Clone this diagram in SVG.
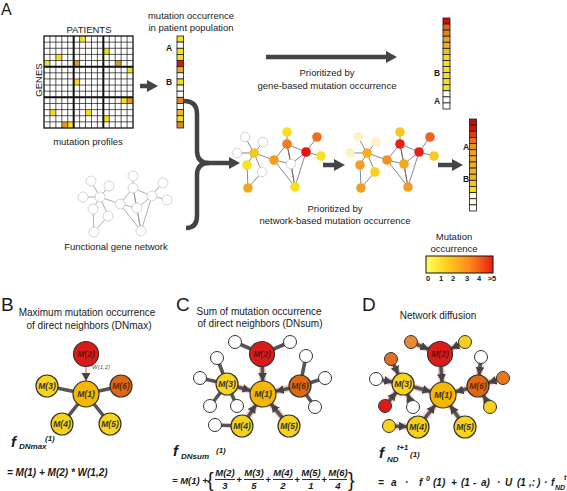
<svg xmlns="http://www.w3.org/2000/svg" xmlns:xlink="http://www.w3.org/1999/xlink" width="567" height="491" viewBox="0 0 567 491">
<style>
.t{font-family:"Liberation Sans",Arial,Helvetica,sans-serif;fill:#1a1a1a}
.s9{font-size:9.5px}
.s10{font-size:10px}
.b{font-weight:bold}
.bi{font-weight:bold;font-style:italic}
.big{font-size:19px}
.m{text-anchor:middle}
.cell{stroke:#1a1a1a;stroke-width:0.8}
.arr{fill:none;stroke:#444;stroke-width:4.5}
.e{stroke:#555;stroke-width:3.6;fill:none}
.glow{stroke:#f2a8a8;stroke-width:7;opacity:0.55;fill:none}
.nd{stroke:#333;stroke-width:1.2}
.nl{font-family:"Liberation Sans",Arial,sans-serif;font-size:8.5px;font-weight:bold;font-style:italic;text-anchor:middle;fill:#333}
.sn{stroke:#333;stroke-width:1}
.w0{fill:#fff;stroke:#c8c8c8;stroke-width:0.8}
</style>
<defs>
<marker id="big" markerUnits="userSpaceOnUse" viewBox="0 0 12 12" markerWidth="12" markerHeight="12" refX="0" refY="6" orient="auto"><path d="M0,0 L11,6 L0,12 z" fill="#444"/></marker>
<marker id="a13" markerUnits="userSpaceOnUse" viewBox="0 0 30 10" markerWidth="30" markerHeight="10" refX="21" refY="5" orient="auto"><path d="M0,0.5 L8,5 L0,9.5 z" fill="#444"/></marker>
<marker id="a12" markerUnits="userSpaceOnUse" viewBox="0 0 30 10" markerWidth="30" markerHeight="10" refX="20.5" refY="5" orient="auto"><path d="M0,0.5 L8,5 L0,9.5 z" fill="#444"/></marker>
<marker id="a11" markerUnits="userSpaceOnUse" viewBox="0 0 30 10" markerWidth="30" markerHeight="10" refX="19" refY="5" orient="auto"><path d="M0,0.5 L8,5 L0,9.5 z" fill="#444"/></marker>
<linearGradient id="grad" x1="0" y1="0" x2="1" y2="0">
<stop offset="0" stop-color="#ffff60"/><stop offset="0.3" stop-color="#ffd020"/><stop offset="0.65" stop-color="#ff8a18"/><stop offset="1" stop-color="#ec1c14"/>
</linearGradient>
<g id="netE">
<path d="M254,153L245,137M254,153L263,142M254,153L237,153M254,153L247,165M254,153L262,172M254,153L274,160M247,165L248,188M262,172L248,188M274,160L287,144M274,160L291,164M274,160L295,187M287,144L287,132M287,144L306,152M287,144L291,164M287,144L295,187M306,152L317,137M306,152L321,156M306,152L291,164M306,152L295,187M291,164L295,187"/>
</g>
</defs>
<rect width="567" height="491" fill="#fff"/>

<!-- Panel A -->
<text class="t" x="1" y="15" font-size="16">A</text>

<g id="matrix">
<rect x="44" y="36" width="89" height="92" fill="#fff"/>
<g fill="#f5e020">
<rect x="79.6" y="36" width="5.93" height="6.13"/>
<rect x="103.33" y="48.27" width="5.93" height="6.13"/>
<rect x="55.87" y="54.4" width="5.93" height="6.13"/>
<rect x="44" y="60.53" width="5.93" height="6.13"/>
<rect x="127.07" y="66.67" width="5.93" height="6.13"/>
<rect x="73.67" y="78.93" width="5.93" height="6.13"/>
<rect x="121.13" y="97.33" width="5.93" height="6.13"/>
<rect x="49.93" y="109.6" width="5.93" height="6.13"/>
<rect x="85.53" y="109.6" width="5.93" height="6.13"/>
<rect x="103.33" y="115.73" width="5.93" height="6.13"/>
<rect x="67.73" y="121.87" width="5.93" height="6.13"/>
</g>
<g fill="#e49a28">
<rect x="73.67" y="60.53" width="5.93" height="6.13"/>
<rect x="115.2" y="60.53" width="5.93" height="6.13"/>
<rect x="127.07" y="97.33" width="5.93" height="6.13"/>
<rect x="61.8" y="121.87" width="5.93" height="6.13"/>
</g>
<path d="M49.93,36V128M55.87,36V128M61.8,36V128M67.73,36V128M79.6,36V128M85.53,36V128M91.47,36V128M97.4,36V128M109.27,36V128M115.2,36V128M121.13,36V128M127.07,36V128M44,42.13H133M44,48.27H133M44,54.4H133M44,60.53H133M44,72.8H133M44,78.93H133M44,85.07H133M44,91.2H133M44,103.47H133M44,109.6H133M44,115.73H133M44,121.87H133" stroke="#111" stroke-width="0.7" fill="none"/>
<path d="M73.67,36V128M103.33,36V128M44,66.67H133M44,97.33H133" stroke="#111" stroke-width="2" fill="none"/>
<rect x="44" y="36" width="89" height="92" fill="none" stroke="#111" stroke-width="1.3"/>
<text class="t s9 m" x="89" y="33">PATIENTS</text>
<text class="t s9 m" transform="translate(42,80) rotate(-90)">GENES</text>
<text class="t s9 m" x="88" y="145">mutation profiles</text>
</g>

<g id="col-occurrence">
<rect class="cell" x="177" y="36" width="6.6" height="6.13" fill="#f5e020"/>
<rect class="cell" x="177" y="42.13" width="6.6" height="6.13" fill="#fff"/>
<rect class="cell" x="177" y="48.27" width="6.6" height="6.13" fill="#f5e020"/>
<rect class="cell" x="177" y="54.4" width="6.6" height="6.13" fill="#f5e020"/>
<rect class="cell" x="177" y="60.53" width="6.6" height="6.13" fill="#d41818"/>
<rect class="cell" x="177" y="66.67" width="6.6" height="6.13" fill="#f0a830"/>
<rect class="cell" x="177" y="72.8" width="6.6" height="6.13" fill="#fff"/>
<rect class="cell" x="177" y="78.93" width="6.6" height="6.13" fill="#f5e020"/>
<rect class="cell" x="177" y="85.07" width="6.6" height="6.13" fill="#fff"/>
<rect class="cell" x="177" y="91.2" width="6.6" height="6.13" fill="#fff"/>
<rect class="cell" x="177" y="97.33" width="6.6" height="6.13" fill="#e08a20"/>
<rect class="cell" x="177" y="103.47" width="6.6" height="6.13" fill="#fff"/>
<rect class="cell" x="177" y="109.6" width="6.6" height="6.13" fill="#f0b830"/>
<rect class="cell" x="177" y="115.73" width="6.6" height="6.13" fill="#f5e020"/>
<rect class="cell" x="177" y="121.87" width="6.6" height="6.13" fill="#e08a20"/>
<text class="t s9 m" x="191" y="19">mutation occurrence</text>
<text class="t s9 m" x="191" y="31">in patient population</text>
<text class="t b m" font-size="8.5" x="169" y="51">A</text>
<text class="t b m" font-size="8.5" x="169" y="85">B</text>
</g>

<g id="col-gene">
<rect class="cell" x="443" y="18" width="7" height="6.07" fill="#c81010"/>
<rect class="cell" x="443" y="24.07" width="7" height="6.07" fill="#e06818"/>
<rect class="cell" x="443" y="30.13" width="7" height="6.07" fill="#e88020"/>
<rect class="cell" x="443" y="36.2" width="7" height="6.07" fill="#f0a020"/>
<rect class="cell" x="443" y="42.27" width="7" height="6.07" fill="#f0b028"/>
<rect class="cell" x="443" y="48.33" width="7" height="6.07" fill="#f0c020"/>
<rect class="cell" x="443" y="54.4" width="7" height="6.07" fill="#f5d820"/>
<rect class="cell" x="443" y="60.47" width="7" height="6.07" fill="#f5e020"/>
<rect class="cell" x="443" y="66.53" width="7" height="6.07" fill="#f5e020"/>
<rect class="cell" x="443" y="72.6" width="7" height="6.07" fill="#f5e020"/>
<rect class="cell" x="443" y="78.67" width="7" height="6.07" fill="#f5e020"/>
<rect class="cell" x="443" y="84.73" width="7" height="6.07" fill="#f5e020"/>
<rect class="cell" x="443" y="90.8" width="7" height="6.07" fill="#fff"/>
<rect class="cell" x="443" y="96.87" width="7" height="6.07" fill="#fff"/>
<rect class="cell" x="443" y="102.93" width="7" height="6.07" fill="#fff"/>
<text class="t b m" font-size="8.5" x="437" y="76">B</text>
<text class="t b m" font-size="8.5" x="437" y="104">A</text>
</g>

<g id="col-network">
<rect class="cell" x="469.5" y="119" width="7" height="6.13" fill="#c01010"/>
<rect class="cell" x="469.5" y="125.13" width="7" height="6.13" fill="#cc1a10"/>
<rect class="cell" x="469.5" y="131.27" width="7" height="6.13" fill="#e04010"/>
<rect class="cell" x="469.5" y="137.4" width="7" height="6.13" fill="#e87018"/>
<rect class="cell" x="469.5" y="143.53" width="7" height="6.13" fill="#f09020"/>
<rect class="cell" x="469.5" y="149.67" width="7" height="6.13" fill="#f0a020"/>
<rect class="cell" x="469.5" y="155.8" width="7" height="6.13" fill="#f0a828"/>
<rect class="cell" x="469.5" y="161.93" width="7" height="6.13" fill="#f0a828"/>
<rect class="cell" x="469.5" y="168.07" width="7" height="6.13" fill="#f0b020"/>
<rect class="cell" x="469.5" y="174.2" width="7" height="6.13" fill="#f0b020"/>
<rect class="cell" x="469.5" y="180.33" width="7" height="6.13" fill="#f5c020"/>
<rect class="cell" x="469.5" y="186.47" width="7" height="6.13" fill="#f5d820"/>
<rect class="cell" x="469.5" y="192.6" width="7" height="6.13" fill="#fff8d8"/>
<rect class="cell" x="469.5" y="198.73" width="7" height="6.13" fill="#fffbe8"/>
<rect class="cell" x="469.5" y="204.87" width="7" height="6.13" fill="#fff"/>
<text class="t b m" font-size="8.5" x="466" y="150">A</text>
<text class="t b m" font-size="8.5" x="466" y="182">B</text>
</g>

<g id="connectors-A">
<path class="arr" d="M140,86H147" marker-end="url(#big)"/>
<path class="arr" d="M266,57H386" marker-end="url(#big)"/>
<path class="arr" d="M184,101Q197,101 197,114V151Q197,163 209,163H229" marker-end="url(#big)"/>
<path class="arr" d="M209,163Q197,163 197,175V216Q197,228 186,228"/>
<path class="arr" d="M323,165H334" marker-end="url(#big)"/>
<path class="arr" d="M438,165H452" marker-end="url(#big)"/>
</g>
<text class="t s9 m" x="327" y="76">Prioritized by</text>
<text class="t s9 m" x="327" y="89">gene-based mutation occurrence</text>
<text class="t s9 m" x="335" y="212">Prioritized by</text>
<text class="t s9 m" x="335" y="224">network-based mutation occurrence</text>

<g id="net-functional">
<use xlink:href="#netE" href="#netE" transform="translate(-154,44)" stroke="#8a8a8a" stroke-width="0.7" fill="none"/>
<g class="w0">
<circle cx="91" cy="181" r="5"/><circle cx="109" cy="186" r="5"/><circle cx="83" cy="197" r="5"/><circle cx="100" cy="197" r="5"/><circle cx="93" cy="209" r="5"/><circle cx="108" cy="216" r="5"/><circle cx="94" cy="232" r="5"/><circle cx="120" cy="204" r="5"/><circle cx="133" cy="176" r="5"/><circle cx="133" cy="188" r="5"/><circle cx="137" cy="208" r="5"/><circle cx="152" cy="196" r="5"/><circle cx="163" cy="183" r="5"/><circle cx="167" cy="200" r="5"/><circle cx="141" cy="231" r="5"/>
</g>
<text class="t s9 m" x="116" y="250">Functional gene network</text>
</g>

<g id="net-before">
<use xlink:href="#netE" href="#netE" stroke="#555" stroke-width="0.7" fill="none"/>
<circle class="w0" cx="245" cy="137" r="4.8"/>
<circle class="w0" cx="263" cy="142" r="4.8"/>
<circle class="w0" cx="237" cy="153" r="4.8"/>
<circle cx="254" cy="153" r="4.8" fill="#f5c820"/>
<circle cx="247" cy="165" r="4.8" fill="#f8e020"/>
<circle class="w0" cx="262" cy="172" r="4.8"/>
<circle cx="248" cy="188" r="4.8" fill="#f0a820"/>
<circle cx="274" cy="160" r="4.8" fill="#f0a020"/>
<circle cx="287" cy="132" r="4.8" fill="#f8e020"/>
<circle cx="287" cy="144" r="4.8" fill="#e88020"/>
<circle cx="306" cy="152" r="4.8" fill="#e81010"/>
<circle cx="317" cy="137" r="4.8" fill="#e87020"/>
<circle cx="321" cy="156" r="4.8" fill="#f8e020"/>
<circle class="w0" cx="291" cy="164" r="4.8"/>
<circle cx="295" cy="187" r="4.8" fill="#f8e020"/>
</g>

<g id="net-after">
<use xlink:href="#netE" href="#netE" transform="translate(113,0)" stroke="#555" stroke-width="0.7" fill="none"/>
<circle cx="358" cy="137" r="4.8" fill="#fdf3c8"/>
<circle cx="376" cy="142" r="4.8" fill="#fdf3c8"/>
<circle cx="350" cy="153" r="4.8" fill="#fdf3c8"/>
<circle cx="367" cy="153" r="4.8" fill="#f5b020"/>
<circle cx="360" cy="165" r="4.8" fill="#f2a028"/>
<circle cx="375" cy="172" r="4.8" fill="#f8d020"/>
<circle cx="361" cy="188" r="4.8" fill="#f0a020"/>
<circle cx="387" cy="160" r="4.8" fill="#f09020"/>
<circle cx="400" cy="132" r="4.8" fill="#f8c820"/>
<circle cx="400" cy="144" r="4.8" fill="#e8201a"/>
<circle cx="419" cy="152" r="4.8" fill="#e8201a"/>
<circle cx="430" cy="137" r="4.8" fill="#f06020"/>
<circle cx="434" cy="156" r="4.8" fill="#f8c820"/>
<circle cx="404" cy="164" r="4.8" fill="#f5a820"/>
<circle cx="408" cy="187" r="4.8" fill="#f0a020"/>
</g>

<g id="legend">
<text class="t s9 m" x="454" y="240">Mutation</text>
<text class="t s9 m" x="454" y="252">occurrence</text>
<rect x="426" y="256" width="67" height="17" fill="url(#grad)" stroke="#111" stroke-width="1"/>
<g class="t b m" font-size="7.5">
<text x="428" y="281">0</text><text x="441" y="281">1</text><text x="453" y="281">2</text><text x="467" y="281">3</text><text x="479" y="281">4</text><text x="492" y="281">&gt;5</text>
</g>
</g>

<!-- Panel B -->
<text class="t big" x="1" y="311">B</text>
<text class="t s10 m" x="87" y="316">Maximum mutation occurrence</text>
<text class="t s10 m" x="89" y="329">of direct neighbors (DNmax)</text>
<g id="edges-B">
<path class="e" d="M86,394L47,386M86,394L121,386M86,394L62,424M86,394L110,424"/>
<path d="M86,354L86,394" stroke="#e05a5a" stroke-width="1" marker-end="url(#a13)"/>
</g>
<g id="B-M2"><circle class="nd" cx="86" cy="354" r="12.5" fill="#dc1a1a"/><text class="nl" x="86" y="357" style="fill:#6a1010">M(2)</text></g>
<g id="B-M1"><circle class="nd" cx="86" cy="394" r="13" fill="#f5b800"/><text class="nl" x="86" y="397">M(1)</text></g>
<g id="B-M3"><circle class="nd" cx="47" cy="386" r="11" fill="#f8d41a"/><text class="nl" x="47" y="389">M(3)</text></g>
<g id="B-M6"><circle class="nd" cx="121" cy="386" r="11" fill="#e06812"/><text class="nl" x="121" y="389" style="fill:#5a2a10">M(6)</text></g>
<g id="B-M4"><circle class="nd" cx="62" cy="424" r="11" fill="#f5d21a"/><text class="nl" x="62" y="427">M(4)</text></g>
<g id="B-M5"><circle class="nd" cx="110" cy="424" r="11" fill="#f8d41a"/><text class="nl" x="110" y="427">M(5)</text></g>
<text class="t" x="92" y="369" font-size="6" font-style="italic" style="fill:#555">W(1,2)</text>
<text class="t bi" x="11" y="447" font-size="15">f</text>
<text class="t bi" x="19" y="449" font-size="8">DNmax</text>
<text class="t bi" x="45" y="441" font-size="8">(1)</text>
<text class="t bi" x="7" y="476" font-size="10">= M(1) + M(2) * W(1,2)</text>

<!-- Panel C -->
<text class="t big" x="176" y="311">C</text>
<text class="t s10 m" x="259" y="315">Sum of mutation occurrence</text>
<text class="t s10 m" x="260" y="327">of direct neighbors (DNsum)</text>
<g id="edges-C">
<path class="glow" d="M262,354L263,394M227,384L263,394M300,386L263,394M242,426L263,394M289,426L263,394"/>
<path class="e" d="M235,342L262,354M290,342L262,354M306,356L300,386M325,378L300,386M315,407L300,386M200,378L227,384M217,358L227,384M210,406L227,384M237,406L227,384M215,425L242,426"/>
<path class="e" d="M262,354L263,394" marker-end="url(#a13)"/>
<path class="e" d="M227,384L263,394" marker-end="url(#a13)"/>
<path class="e" d="M300,386L263,394" marker-end="url(#a13)"/>
<path class="e" d="M242,426L263,394" marker-end="url(#a13)"/>
<path class="e" d="M289,426L263,394" marker-end="url(#a13)"/>
</g>
<g id="C-small" fill="#fff" class="sn">
<circle cx="235" cy="342" r="6.5"/><circle cx="290" cy="342" r="6.5"/><circle cx="306" cy="356" r="6.5"/><circle cx="325" cy="378" r="6.5"/><circle cx="315" cy="407" r="6.5"/><circle cx="200" cy="378" r="6.5"/><circle cx="217" cy="358" r="6.5"/><circle cx="210" cy="406" r="6.5"/><circle cx="237" cy="406" r="6.5"/><circle cx="215" cy="425" r="6.5"/>
</g>
<g id="C-M2"><circle class="nd" cx="262" cy="354" r="12.5" fill="#dc1a1a"/><text class="nl" x="262" y="357" style="fill:#6a1010">M(2)</text></g>
<g id="C-M1"><circle class="nd" cx="263" cy="394" r="13" fill="#f5b800"/><text class="nl" x="263" y="397">M(1)</text></g>
<g id="C-M3"><circle class="nd" cx="227" cy="384" r="11" fill="#f8d41a"/><text class="nl" x="227" y="387">M(3)</text></g>
<g id="C-M6"><circle class="nd" cx="300" cy="386" r="11" fill="#e06812"/><text class="nl" x="300" y="389" style="fill:#5a2a10">M(6)</text></g>
<g id="C-M4"><circle class="nd" cx="242" cy="426" r="11" fill="#f5d21a"/><text class="nl" x="242" y="429">M(4)</text></g>
<g id="C-M5"><circle class="nd" cx="289" cy="426" r="11" fill="#f8d41a"/><text class="nl" x="289" y="429">M(5)</text></g>
<text class="t bi" x="173" y="456" font-size="15">f</text>
<text class="t bi" x="181" y="459" font-size="8">DNsum</text>
<text class="t bi" x="216" y="453" font-size="8">(1)</text>
<g id="formula-C" class="t bi" font-size="9.5">
<text x="172" y="484">= M(1) +</text>
<text x="207" y="487" font-size="20" font-weight="normal" font-style="normal">{</text>
<text class="m" x="225" y="476">M(2)</text><text class="m" x="225" y="489">3</text>
<text class="m" x="239" y="483">+</text>
<text class="m" x="254" y="476">M(3)</text><text class="m" x="254" y="489">5</text>
<text class="m" x="268" y="483">+</text>
<text class="m" x="283" y="476">M(4)</text><text class="m" x="283" y="489">2</text>
<text class="m" x="297" y="483">+</text>
<text class="m" x="311" y="476">M(5)</text><text class="m" x="311" y="489">1</text>
<text class="m" x="324" y="483">+</text>
<text class="m" x="338" y="476">M(6)</text><text class="m" x="338" y="489">4</text>
<text x="348" y="487" font-size="20" font-weight="normal" font-style="normal">}</text>
</g>
<path d="M215,479.5H235M244,479.5H264M273,479.5H293M302,479.5H320M329,479.5H347" stroke="#1a1a1a" stroke-width="0.9"/>

<!-- Panel D -->
<text class="t big" x="362" y="311">D</text>
<text class="t s10 m" x="438" y="319">Network diffusion</text>
<g id="edges-D">
<path class="glow" d="M440,354L443,395M403,384L443,395M478,386L443,395M418,427L443,395M465,427L443,395M411,342L440,354M465,342L440,354M481,357L478,386M503,378L478,386M490,407L478,386M376,379L403,384M391,359L403,384M385,406L403,384M413,407L403,384M389,426L418,427"/>
<path class="e" d="M440,354L443,395" marker-end="url(#a13)"/>
<path class="e" d="M403,384L443,395" marker-end="url(#a13)"/>
<path class="e" d="M478,386L443,395" marker-end="url(#a13)"/>
<path class="e" d="M418,427L443,395" marker-end="url(#a13)"/>
<path class="e" d="M465,427L443,395" marker-end="url(#a13)"/>
<path class="e" d="M411,342L440,354" marker-end="url(#a12)"/>
<path class="e" d="M465,342L440,354" marker-end="url(#a12)"/>
<path class="e" d="M481,357L478,386" marker-end="url(#a11)"/>
<path class="e" d="M503,378L478,386" marker-end="url(#a11)"/>
<path class="e" d="M490,407L478,386" marker-end="url(#a11)"/>
<path class="e" d="M376,379L403,384" marker-end="url(#a11)"/>
<path class="e" d="M391,359L403,384" marker-end="url(#a11)"/>
<path class="e" d="M385,406L403,384" marker-end="url(#a11)"/>
<path class="e" d="M413,407L403,384" marker-end="url(#a11)"/>
<path class="e" d="M389,426L418,427" marker-end="url(#a11)"/>
</g>
<g id="D-small" class="sn">
<circle cx="411" cy="342" r="6.5" fill="#e88a30"/><circle cx="465" cy="342" r="6.5" fill="#f8d020"/><circle cx="481" cy="357" r="6.5" fill="#fff"/><circle cx="503" cy="378" r="6.5" fill="#e87820"/><circle cx="490" cy="407" r="6.5" fill="#f8d020"/><circle cx="376" cy="379" r="6.5" fill="#fff"/><circle cx="391" cy="359" r="6.5" fill="#e07020"/><circle cx="385" cy="406" r="6.5" fill="#dc1a1a"/><circle cx="413" cy="407" r="6.5" fill="#fff"/><circle cx="389" cy="426" r="6.5" fill="#f8d020"/>
</g>
<g id="D-M2"><circle class="nd" cx="440" cy="354" r="12.5" fill="#dc1a1a"/><text class="nl" x="440" y="357" style="fill:#6a1010">M(2)</text></g>
<g id="D-M1"><circle class="nd" cx="443" cy="395" r="13" fill="#f5b800"/><text class="nl" x="443" y="398">M(1)</text></g>
<g id="D-M3"><circle class="nd" cx="403" cy="384" r="11" fill="#f8d41a"/><text class="nl" x="403" y="387">M(3)</text></g>
<g id="D-M6"><circle class="nd" cx="478" cy="386" r="11" fill="#e06812"/><text class="nl" x="478" y="389" style="fill:#5a2a10">M(6)</text></g>
<g id="D-M4"><circle class="nd" cx="418" cy="427" r="11" fill="#f5d21a"/><text class="nl" x="418" y="430">M(4)</text></g>
<g id="D-M5"><circle class="nd" cx="465" cy="427" r="11" fill="#f8d41a"/><text class="nl" x="465" y="430">M(5)</text></g>
<text class="t bi" x="379" y="458" font-size="15">f</text>
<text class="t bi" x="387" y="462" font-size="8">ND</text>
<text class="t bi" x="397" y="450" font-size="7.5">t+1</text>
<text class="t bi" x="410" y="457" font-size="8">(1)</text>
<g id="formula-D" class="t bi" font-size="10">
<text x="378" y="486">=</text>
<text x="391" y="486">a</text>
<text x="405" y="486">·</text>
<text x="419" y="486">f</text>
<text x="426" y="481" font-size="7">0</text>
<text x="433" y="486">(1)</text>
<text x="451" y="486">+</text>
<text x="461" y="486">(1</text>
<text x="473" y="486">-</text>
<text x="481" y="486">a)</text>
<text x="497" y="486">·</text>
<text x="505" y="486">U</text>
<text x="517" y="486">(1</text>
<text x="529" y="486">,:</text>
<text x="537" y="486">)</text>
<text x="544" y="486">·</text>
<text x="551" y="486">f</text>
<text x="555" y="490" font-size="7">ND</text>
<text x="564" y="480" font-size="7">t</text>
</g>
</svg>
